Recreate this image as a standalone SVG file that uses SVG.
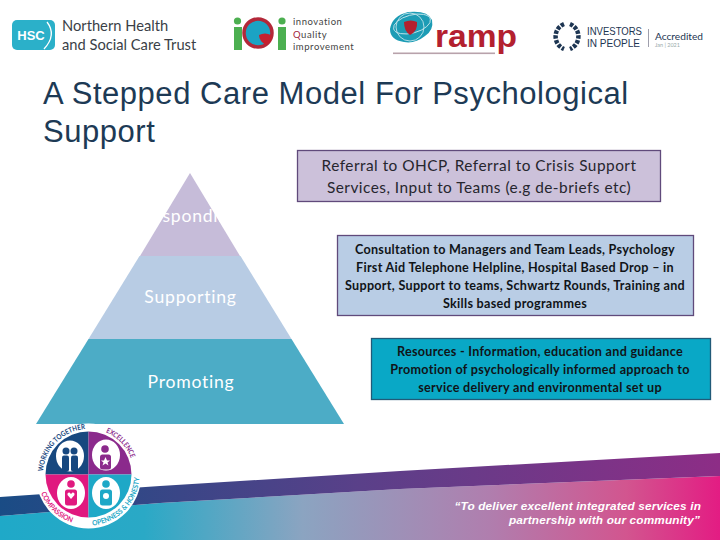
<svg xmlns="http://www.w3.org/2000/svg" width="720" height="540" viewBox="0 0 720 540">
<style>
.lato{font-family:"Lato","Open Sans","Liberation Sans",sans-serif}
.box{stroke-width:1.3}
.t1{font-size:15.4px;fill:#26262e;text-anchor:middle;letter-spacing:.48px}
.t2{font-size:12.6px;fill:#101418;text-anchor:middle;font-weight:700;letter-spacing:.29px}
.lab{font-size:17.600px;fill:#fff;text-anchor:middle;letter-spacing:.75px}
.ring{font-family:"Lato","Liberation Sans",sans-serif;font-weight:700;font-size:7.2px}
.w{fill:#fff}
</style>
<defs>
<linearGradient id="low" x1="0" y1="0" x2="720" y2="0" gradientUnits="userSpaceOnUse">
<stop offset="0" stop-color="#1fa9c8"/><stop offset=".2" stop-color="#2aa9c6"/><stop offset=".42" stop-color="#8ba4c1"/><stop offset=".68" stop-color="#b07eae"/><stop offset=".87" stop-color="#d2558f"/><stop offset="1" stop-color="#e31c83"/>
</linearGradient>
<linearGradient id="band" x1="0" y1="0" x2="720" y2="0" gradientUnits="userSpaceOnUse">
<stop offset="0" stop-color="#1a4c85"/><stop offset=".5" stop-color="#5a4089"/><stop offset="1" stop-color="#8d2d86"/>
</linearGradient>
<path id="arcTop" d="M43 474.500A45.500 45.500 0 0 1 134 474.500"/>
<path id="arcBot" d="M37.500 474.500A51 51 0 0 0 139.500 474.500"/>
</defs>
<rect width="720" height="540" fill="#fff"/>
<g id="footer">
<path d="M0 516L160 503L400 489L720 476V540H0Z" fill="url(#low)"/>
<path d="M0 497L160 486L400 471L720 453V476L400 489L160 503L0 516Z" fill="url(#band)"/>
<text x="701" y="510" text-anchor="end" font-family="'Liberation Sans',sans-serif" font-size="11.800" font-style="italic" font-weight="700" fill="#fff" letter-spacing=".16">“To deliver excellent integrated services in</text>
<text x="700" y="524" text-anchor="end" font-family="'Liberation Sans',sans-serif" font-size="11.800" font-style="italic" font-weight="700" fill="#fff" letter-spacing=".16">partnership with our community”</text>
</g>
<g id="logo-hsc">
<rect x="12" y="20" width="43" height="30" rx="5" fill="#2bb0c9"/>
<text x="31" y="40" text-anchor="middle" font-family="'Liberation Sans',sans-serif" font-size="13" font-weight="700" fill="#fff">HSC</text>
<path d="M47 22Q57 35 44 49" fill="none" stroke="#fff" stroke-width="1.3"/>
<text x="62" y="31" font-family="'Lato',sans-serif" font-size="14.700" fill="#3a3f47">Northern Health</text>
<text x="62" y="50" font-family="'Lato',sans-serif" font-size="14.700" fill="#3a3f47">and Social Care Trust</text>
</g>
<g id="logo-iqi">
<circle cx="237.500" cy="21" r="3.600" fill="#4caf50"/><rect x="234" y="27" width="8" height="23" fill="#4caf50"/>
<circle cx="258" cy="33" r="14" fill="#1ba3c4" stroke="#b32839" stroke-width="3.500"/>
<path d="M259 35Q265 32 271 35Q273 41 266 45Q259 41 259 35Z" fill="#c4202f"/>
<circle cx="282" cy="21" r="3.600" fill="#4caf50"/><rect x="278" y="27" width="8" height="23" fill="#4caf50"/>
<g font-family="'Lato',sans-serif" font-size="9.500" letter-spacing=".55">
<text x="293" y="25" fill="#444">innovation</text>
<text x="293" y="38"><tspan fill="#a3263a">Q</tspan><tspan fill="#444">uality</tspan></text>
<text x="293" y="50" fill="#444">improvement</text></g>
</g>
<g id="logo-ramp">
<path d="M390 29Q392 16 408 12Q428 10 432 20Q434 30 425 36Q415 44 404 42Q390 40 390 29Z" fill="#1c9cb5"/>
<circle cx="410" cy="27" r="14" fill="none" stroke="#bfe3ea" stroke-width=".9"/>
<ellipse cx="412" cy="24" rx="19" ry="9" fill="none" stroke="#bfe3ea" stroke-width=".9" transform="rotate(-15 412 24)"/>
<path d="M404 22Q411 19 417 22Q418 31 410 35Q404 31 404 22Z" fill="#b3202f"/>
<text x="435" y="47" font-family="'Liberation Sans',sans-serif" font-size="31" font-weight="700" fill="#b3202f" textLength="82" lengthAdjust="spacingAndGlyphs">ramp</text>
<rect x="393" y="52.500" width="102" height="1.600" fill="#9a7a88" opacity=".7"/>
</g>
<g id="logo-iip">
<path d="M564 24A13.500 13.500 0 0 0 564 49M570 24A13.500 13.500 0 0 1 570 49" fill="none" stroke="#1d3552" stroke-width="4.500" stroke-dasharray="3.500 1.400"/>
<text x="587" y="35" font-family="'Liberation Sans',sans-serif" font-size="10.500" fill="#1d3552" textLength="55" lengthAdjust="spacingAndGlyphs">INVESTORS</text>
<text x="587" y="47" font-family="'Liberation Sans',sans-serif" font-size="10.500" fill="#1d3552" textLength="53" lengthAdjust="spacingAndGlyphs">IN PEOPLE</text>
<rect x="648" y="29" width=".8" height="18" fill="#889"/>
<text x="655" y="40" font-family="'Lato',sans-serif" font-size="10" fill="#1d3552" textLength="48" lengthAdjust="spacingAndGlyphs">Accredited</text>
<text x="655" y="47" font-family="'Lato',sans-serif" font-size="5.500" fill="#9aa">Jan | 2021</text>
</g>
<g id="title">
<text font-family="'Liberation Sans',Arial,sans-serif" font-size="31" fill="#1d3a55" letter-spacing=".54"><tspan x="43" y="104">A Stepped Care Model For Psychological</tspan><tspan x="43" y="142">Support</tspan></text>
</g>
<g id="pyramid-responding">
<path d="M190 173L240 256H140Z" fill="#c6bcd9"/>
<text x="190" y="222" class="lato lab">Responding</text>
</g>
<g id="pyramid-supporting">
<path d="M139.500 256H240.500L291.500 339H88.500Z" fill="#b8cce4"/>
<text x="190.500" y="303" class="lato lab">Supporting</text>
</g>
<g id="pyramid-promoting">
<path d="M88.500 339H291.500L344 424H36Z" fill="#4cacc6"/>
<text x="191" y="388" class="lato lab">Promoting</text>
</g>
<g id="box-responding">
<rect x="297.500" y="150.500" width="363" height="51" fill="#ccc1da" stroke="#604a7b" class="box"/>
<text class="lato t1"><tspan x="479" y="171">Referral to OHCP, Referral to Crisis Support</tspan><tspan x="479" y="193">Services, Input to Teams (e.g de-briefs etc)</tspan></text>
</g>
<g id="box-supporting">
<rect x="337.500" y="235.500" width="356" height="80" fill="#b9cde5" stroke="#604a7b" class="box"/>
<text class="lato t2"><tspan x="515" y="254">Consultation to Managers and Team Leads,  Psychology</tspan><tspan x="515" y="272">First Aid Telephone Helpline, Hospital Based Drop – in</tspan><tspan x="515" y="290">Support, Support to teams, Schwartz Rounds, Training and</tspan><tspan x="515" y="308">Skills based programmes</tspan></text>
</g>
<g id="box-promoting">
<rect x="371.500" y="338.500" width="339" height="61" fill="#09a8c6" stroke="#215a78" class="box"/>
<text class="lato t2"><tspan x="540" y="356">Resources - Information, education and guidance</tspan><tspan x="540" y="374">Promotion of psychologically informed approach to</tspan><tspan x="540" y="392">service delivery and environmental set up</tspan></text>
</g>
<g id="values-badge">
<circle cx="88.500" cy="476" r="52.500" fill="#fff"/>
<path d="M88.500 474.500V431.500A43 43 0 0 0 45.500 474.500Z" fill="#17487f"/>
<path d="M88.500 474.500V431.500A43 43 0 0 1 131.500 474.500Z" fill="#8b2a8c"/>
<path d="M88.500 474.500H45.500A43 43 0 0 0 88.500 517.500Z" fill="#e0197f"/>
<path d="M88.500 474.500H131.500A43 43 0 0 1 88.500 517.500Z" fill="#1ea8c7"/>
<ellipse cx="70" cy="456" rx="14" ry="15.500" class="w"/>
<ellipse cx="106" cy="455" rx="14" ry="15.500" class="w"/>
<ellipse cx="71" cy="493" rx="14" ry="16" class="w"/>
<ellipse cx="106" cy="493" rx="14" ry="16" class="w"/>
<g fill="#17487f"><circle cx="66" cy="451" r="3.500"/><circle cx="74" cy="451" r="3.500"/><rect x="62" y="455.500" width="7" height="16" rx="2"/><rect x="71" y="455.500" width="7" height="16" rx="2"/></g>
<g fill="#8b2a8c"><circle cx="105" cy="449" r="3.800"/><rect x="100" y="454.500" width="11" height="15" rx="2.500"/></g>
<path d="M105.500 457L107 460.500H110L107.500 462.500L108.500 465.500L105.500 463.500L102.500 465.500L103.500 462.500L101 460.500H104Z" class="w"/>
<g fill="#e0197f"><circle cx="71" cy="484" r="3.800"/><rect x="65" y="489.500" width="12" height="16" rx="2.500"/></g>
<path d="M71 499L67.500 495Q67 492 69.500 492.500L71 494L72.500 492.500Q75 492 74.500 495Z" class="w"/>
<g fill="#1ea8c7"><circle cx="106" cy="484" r="3.800"/><rect x="100" y="489.500" width="12" height="16" rx="2.500"/></g>
<circle cx="106" cy="496" r="3" class="w"/>
<text class="ring" fill="#17487f" textLength="65" lengthAdjust="spacingAndGlyphs"><textPath href="#arcTop" startOffset="3">WORKING TOGETHER</textPath></text>
<text class="ring" fill="#8b2a8c" textLength="37" lengthAdjust="spacingAndGlyphs"><textPath href="#arcTop" startOffset="89">EXCELLENCE</textPath></text>
<text class="ring" fill="#e0197f" textLength="44" lengthAdjust="spacingAndGlyphs"><textPath href="#arcBot" startOffset="19">COMPASSION</textPath></text>
<text class="ring" fill="#1ea8c7" textLength="73" lengthAdjust="spacingAndGlyphs"><textPath href="#arcBot" startOffset="84">OPENNESS &amp; HONESTY</textPath></text>
</g>
</svg>
